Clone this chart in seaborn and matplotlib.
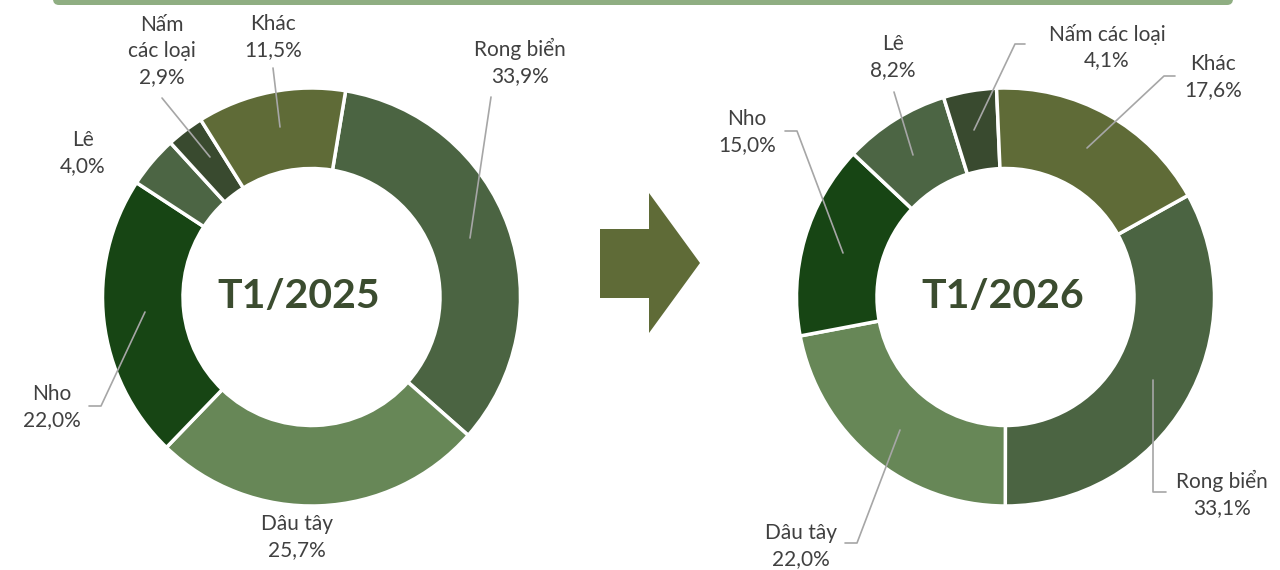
import matplotlib.pyplot as plt
from matplotlib.patches import Polygon, FancyBboxPatch
import seaborn as sns

# Data
categories = ['Rong biển', 'Dâu tây', 'Nho', 'Lê', 'Nấm các loại', 'Khác']
label_names_2025 = ['Rong biển', 'Dâu tây', 'Nho', 'Lê', 'Nấm\ncác loại', 'Khác']
label_names_2026 = ['Rong biển', 'Dâu tây', 'Nho', 'Lê', 'Nấm các loại', 'Khác']
values_2025 = [33.9, 25.7, 22.0, 4.0, 2.9, 11.5]
values_2026 = [33.1, 22.0, 15.0, 8.2, 4.1, 17.6]
titles = ['T1/2025', 'T1/2026']

colors = ['#4b6442', '#678757', '#174514', '#4c6544', '#394a2f', '#5f6b37']

sns.set_theme(style='white')
plt.rcParams['font.family'] = ['Lato', 'DejaVu Sans']

W, H = 1280, 570
fig = plt.figure(figsize=(12.8, 5.7), dpi=100)
ax = fig.add_axes([0, 0, 1, 1])


def Y(py):
    # pixel row (from top) -> data y
    return H - py


def pct(v):
    return f'{v:.1f}'.replace('.', ',') + '%'


# layout: donut centres/angles, label centres, leader lines (pixels)
layout = [
    dict(cx=311.5, cy=297, start=90 - 9.4, tx=299,
         labels=[(520, 62), (297, 537), (52, 407), (83, 153), (162, 51), (273, 37)],
         lines=[[(491, 97), (470, 238)], None, [(89, 406), (101, 406), (145, 312)],
                None, [(162, 98), (210, 157)], [(273, 68), (280, 127)]]),
    dict(cx=1005.5, cy=297, start=90 - 60.9, tx=1002.5,
         labels=[(1222, 494), (801, 546), (747, 132), (893, 57), (1107, 47), (1213, 77)],
         lines=[[(1166, 492), (1153, 492), (1153, 380)], [(845, 543), (857, 543), (900, 430)],
                [(785, 131), (797, 131), (843, 253)], [(894, 92), (913, 155)],
                [(1025, 44), (1015, 44), (974, 130)], [(1175, 76), (1164, 76), (1087, 148)]]),
]
R_out, R_in = 209, 128.5

for vals, names, title, lay in zip([values_2025, values_2026],
                                   [label_names_2025, label_names_2026], titles, layout):
    ax.pie(vals, colors=colors, startangle=lay['start'], counterclock=False,
           radius=R_out, center=(lay['cx'], Y(lay['cy'])),
           wedgeprops=dict(width=R_out - R_in, edgecolor='white', linewidth=2.5))
    ax.text(lay['tx'], Y(lay['cy']), title, ha='center', va='center',
            fontsize=29.5, fontweight='bold', color='#3b4c2f')
    for name, v, (lx, ly), ln in zip(names, vals, lay['labels'], lay['lines']):
        ax.text(lx, Y(ly), f'{name}\n{pct(v)}', ha='center', va='center',
                fontsize=15, color='#404040', linespacing=1.35)
        if ln is not None:
            ax.plot([p[0] for p in ln], [Y(p[1]) for p in ln], color='#a6a6a6', lw=1.2)

# arrow between the donuts
arrow = Polygon([(600, Y(229)), (649, Y(229)), (649, Y(193)), (700, Y(263)),
                 (649, Y(333)), (649, Y(298)), (600, Y(298))],
                closed=True, facecolor='#5f6b37', edgecolor='none')
ax.add_patch(arrow)

# header band at the top
band = FancyBboxPatch((53, Y(5)), 1233 - 53, 20, boxstyle='round,pad=0,rounding_size=6',
                      facecolor='#8fae82', edgecolor='none')
ax.add_patch(band)

ax.set_xlim(0, W)
ax.set_ylim(0, H)
ax.set_aspect('equal')
ax.axis('off')

fig.savefig('out.png', dpi=100, facecolor='white')
